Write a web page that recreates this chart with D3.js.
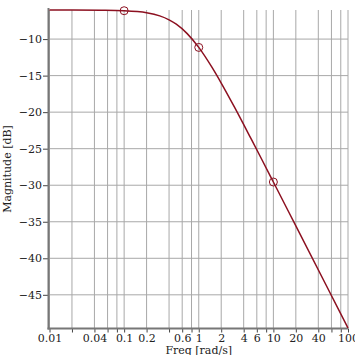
<!DOCTYPE html>
<html>
<head>
<meta charset="utf-8">
<script src="https://cdn.jsdelivr.net/npm/d3@7"></script>
<style>
  body { margin: 0; background: #fff; }
  text { font-family: "DejaVu Serif", serif; font-size: 11px; fill: #222; }
</style>
</head>
<body>
<div id="chart"></div>
<script>
// magnitude response
const freq = [0.01, 0.02, 0.05, 0.1, 0.15, 0.2, 0.3, 0.4, 0.5, 0.7, 1, 1.5, 2, 3, 5, 7, 10, 20, 50, 100];
const magDb = [-6.02, -6.02, -6.05, -6.12, -6.24, -6.40, -6.82, -7.36, -7.96, -9.25, -11.14, -13.85, -16.02, -19.29, -23.60, -26.48, -29.56, -35.57, -43.52, -49.54];
const markFreq = [0.1, 1, 10];
const markDb = [-6.12, -11.14, -29.56];
const xGrid = [0.01, 0.02, 0.04, 0.06, 0.08, 0.1, 0.2, 0.4, 0.6, 0.8, 1, 2, 4, 6, 8, 10, 20, 40, 60, 80, 100];
const xLabels = ['0.01', '0.04', '0.1', '0.2', '0.6', '1', '2', '4', '6', '10', '20', '40', '100'];
const yTicks = [-10, -15, -20, -25, -30, -35, -40, -45];

(() => {
    const W = 355, H = 355;
    const left = 49.5, right = 348, top = 10, bottom = 328;
    const lineColor = '#8c1020';

    let svg = d3.select('#chart')
        .append('svg')
        .attr('width', W)
        .attr('height', H);

    let x = d3.scaleLog().domain([0.01, 100]).range([left, right]);
    let y = d3.scaleLinear().domain(d3.extent(magDb)).range([bottom, top]);

    // grid
    svg.append('g')
        .selectAll('line')
        .data(xGrid)
        .enter()
        .append('line')
        .attr('x1', d => x(d)).attr('x2', d => x(d))
        .attr('y1', top).attr('y2', bottom)
        .attr('stroke', '#a8a8a8').attr('stroke-width', 1);
    svg.append('g')
        .selectAll('line')
        .data(yTicks)
        .enter()
        .append('line')
        .attr('x1', left).attr('x2', right)
        .attr('y1', d => y(d)).attr('y2', d => y(d))
        .attr('stroke', '#a8a8a8').attr('stroke-width', 1);

    // axes
    let xAxis = d3.axisBottom(x)
        .tickValues(xGrid)
        .tickSize(4)
        .tickPadding(2)
        .tickFormat(d => {
            let s = String(+d.toPrecision(3));
            return xLabels.includes(s) ? s : '';
        });
    let gx = svg.append('g')
        .attr('transform', `translate(0,${bottom + 0.5})`)
        .call(xAxis);
    gx.select('.domain').remove();
    gx.selectAll('.tick line').attr('stroke', '#444');
    gx.selectAll('text').attr('font-size', 11).attr('font-family', 'DejaVu Serif');

    let yAxis = d3.axisLeft(y)
        .tickValues(yTicks)
        .tickSize(5)
        .tickPadding(1)
        .tickFormat(d => '\u2212' + Math.abs(d));
    let gy = svg.append('g')
        .attr('transform', `translate(${left - 1.5},0)`)
        .call(yAxis);
    gy.select('.domain').remove();
    gy.selectAll('.tick line').attr('stroke', '#444');
    gy.selectAll('text').attr('font-size', 11).attr('font-family', 'DejaVu Serif');

    svg.append('line')
        .attr('x1', left - 1).attr('x2', left - 1)
        .attr('y1', top - 2).attr('y2', bottom + 1.5)
        .attr('stroke', '#777').attr('stroke-width', 2);
    svg.append('line')
        .attr('x1', left - 2).attr('x2', right)
        .attr('y1', bottom + 0.5).attr('y2', bottom + 0.5)
        .attr('stroke', '#777').attr('stroke-width', 2);

    // curve
    let line = d3.line()
        .x((d, i) => x(freq[i]))
        .y(d => y(d))
        .curve(d3.curveMonotoneX);
    svg.append('path')
        .datum(magDb)
        .attr('d', line)
        .attr('fill', 'none')
        .attr('stroke', lineColor)
        .attr('stroke-width', 1.5);

    svg.append('g')
        .selectAll('circle')
        .data(markFreq)
        .enter()
        .append('circle')
        .attr('cx', d => x(d))
        .attr('cy', (d, i) => y(markDb[i]))
        .attr('r', 4)
        .attr('fill', 'none')
        .attr('stroke', lineColor)
        .attr('stroke-width', 1);

    // labels
    svg.append('text')
        .attr('x', (left + right) / 2)
        .attr('y', 354)
        .attr('text-anchor', 'middle')
        .text('Freq [rad/s]');
    svg.append('text')
        .attr('transform', `translate(11,${(top + bottom) / 2}) rotate(-90)`)
        .attr('text-anchor', 'middle')
        .text('Magnitude [dB]');
})();
</script>
</body>
</html>
